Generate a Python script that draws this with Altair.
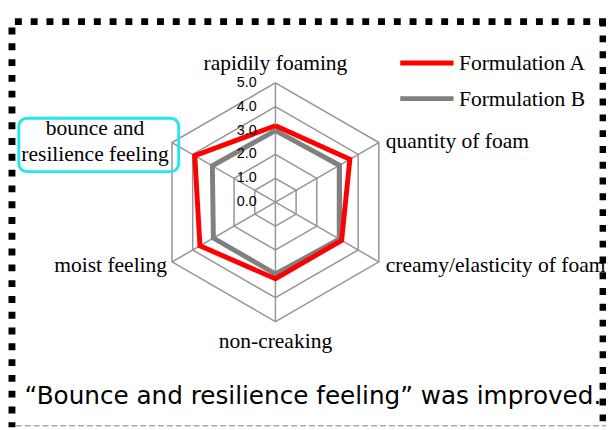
import math
import altair as alt
import pandas as pd

# ---------------- data ----------------
categories = ["rapidily foaming", "quantity of foam", "creamy/elasticity of foam",
              "non-creaking", "moist feeling", "bounce and\nresilience feeling"]
series_names = ["Formulation A", "Formulation B"]
formulation_a = [3.2, 3.6, 3.2, 3.2, 3.65, 3.9]
formulation_b = [3.0, 3.1, 3.1, 3.0, 3.0, 3.05]
series_colors = ["#FF0000", "#808080"]
ring_levels = [1, 2, 3, 4, 5]
tick_values = [0, 1, 2, 3, 4, 5]
tick_labels = ["0.0", "1.0", "2.0", "3.0", "4.0", "5.0"]
max_value = 5
caption = "\u201cBounce and resilience feeling\u201d was improved."

# ---------------- tables ----------------
n = len(categories)
angles = [math.pi / 2 - i * 2 * math.pi / n for i in range(n)]

series_rows = []
for name, vals in zip(series_names, [formulation_a, formulation_b]):
    for k in range(n + 1):
        i = k % n
        series_rows.append({"series": name, "k": k, "ang": angles[i], "value": vals[i]})
series_df = pd.DataFrame(series_rows)

grid_rows = []
for lv in ring_levels:
    for k in range(n + 1):
        i = k % n
        grid_rows.append({"level": lv, "k": k, "ang": angles[i]})
grid_df = pd.DataFrame(grid_rows)

spoke_df = pd.DataFrame({"i": list(range(n)), "ang": angles, "r": [max_value] * n})
label_df = pd.DataFrame({"i": list(range(n)), "cat": categories, "ang": angles, "r": [max_value] * n})
tick_df = pd.DataFrame({"v": tick_values, "lab": tick_labels})
one = pd.DataFrame({"d": [0]})
cap_df = pd.DataFrame({"t": [caption]})

# ---------------- geometry of the view ----------------
W, H = 606, 422
cx, cy, unit = 271.0, 194.0, 24.2   # centre in plot pixels, pixels per unit
X = alt.Scale(domain=[-cx / unit, (W - cx) / unit], nice=False, zero=False)
Y = alt.Scale(domain=[-(H - cy) / unit, cy / unit], nice=False, zero=False)

def xy(xf="x", yf="y"):
    return dict(x=alt.X(f"{xf}:Q", scale=X, axis=None),
                y=alt.Y(f"{yf}:Q", scale=Y, axis=None))

serif = "Liberation Serif"
sans = "Liberation Sans"
label_size = 21.8

# grid rings
rings = alt.Chart(grid_df).transform_calculate(
    x="datum.level*cos(datum.ang)", y="datum.level*sin(datum.ang)"
).mark_line(color="#959595", strokeWidth=1.5, strokeJoin="miter").encode(
    **xy(), detail="level:N", order="k:Q")

spokes = alt.Chart(spoke_df).transform_calculate(
    x0="0", y0="0", x5="datum.r*cos(datum.ang)", y5="datum.r*sin(datum.ang)"
).mark_rule(color="#959595", strokeWidth=1.5).encode(
    **xy("x0", "y0"), x2="x5:Q", y2="y5:Q")

legend = alt.Legend(orient="none", legendX=395, legendY=35, title=None,
                    symbolType="stroke", symbolSize=2916, symbolStrokeWidth=5,
                    labelFont=serif, labelFontSize=label_size, labelColor="black",
                    labelOffset=3, rowPadding=0, clipHeight=36, padding=0)
color = alt.Color("series:N", scale=alt.Scale(domain=series_names, range=series_colors),
                  legend=legend)

def series_layer(name):
    return alt.Chart(series_df).transform_filter(
        alt.datum.series == name
    ).transform_calculate(
        x="datum.value*cos(datum.ang)", y="datum.value*sin(datum.ang)"
    ).mark_line(strokeWidth=5, strokeJoin="miter").encode(
        **xy(), color=color, order="k:Q")

line_b = series_layer("Formulation B")
line_a = series_layer("Formulation A")

def label_layer(i, align, dx, dy):
    return alt.Chart(label_df).transform_filter(alt.datum.i == i).transform_calculate(
        x="datum.r*cos(datum.ang)", y="datum.r*sin(datum.ang)"
    ).mark_text(font=serif, fontSize=label_size, color="black", align=align, baseline="middle",
                dx=dx, dy=dy, lineBreak="\n", lineHeight=26).encode(**xy(), text="cat:N")

labels = [
    label_layer(0, "center", 0, -20.5),
    label_layer(1, "left", 7, -1),
    label_layer(2, "left", 7, 3),
    label_layer(3, "center", 0, 20),
    label_layer(4, "right", -5, 3),
    label_layer(5, "center", -78, -14.5),
]

ticks = alt.Chart(tick_df).transform_calculate(x0="0").mark_text(
    font=sans, fontSize=14.5, color="black", align="right", baseline="middle", dx=-19
).encode(**xy("x0", "v"), text="lab:N")

# cyan highlight box
box = alt.Chart(one).mark_rect(fillOpacity=0, stroke="#22E6F2", strokeWidth=3,
                               cornerRadius=8).encode(
    x=alt.value(11), x2=alt.value(173), y=alt.value(109), y2=alt.value(163))

# dotted frame
frame_style = dict(color="black", strokeWidth=7, strokeDash=[7, 9], strokeCap="butt")
top = alt.Chart(one).mark_rule(**frame_style).encode(
    x=alt.value(7), x2=alt.value(606), y=alt.value(11))
left = alt.Chart(one).mark_rule(**frame_style).encode(
    x=alt.value(4), y=alt.value(17), y2=alt.value(422))
right = alt.Chart(one).mark_rule(**frame_style).encode(
    x=alt.value(603), y=alt.value(9), y2=alt.value(422))
bottom = alt.Chart(one).mark_rule(color="#aaaaaa", strokeWidth=1.5, strokeDash=[6, 3]).encode(
    x=alt.value(8), x2=alt.value(606), y=alt.value(420.5))

cap = alt.Chart(cap_df).mark_text(font="DejaVu Sans", fontSize=25, color="black",
                                  align="center", baseline="alphabetic").encode(
    x=alt.value(309), y=alt.value(398), text="t:N")

chart = alt.layer(
    rings, spokes, line_b, line_a, *labels, ticks, box, top, left, right, bottom, cap
).properties(
    width=W, height=H, autosize=alt.AutoSizeParams(type="none"), padding=0
).configure_view(stroke=None)

chart.save("out.html", embed_options={"renderer": "svg", "actions": False})
